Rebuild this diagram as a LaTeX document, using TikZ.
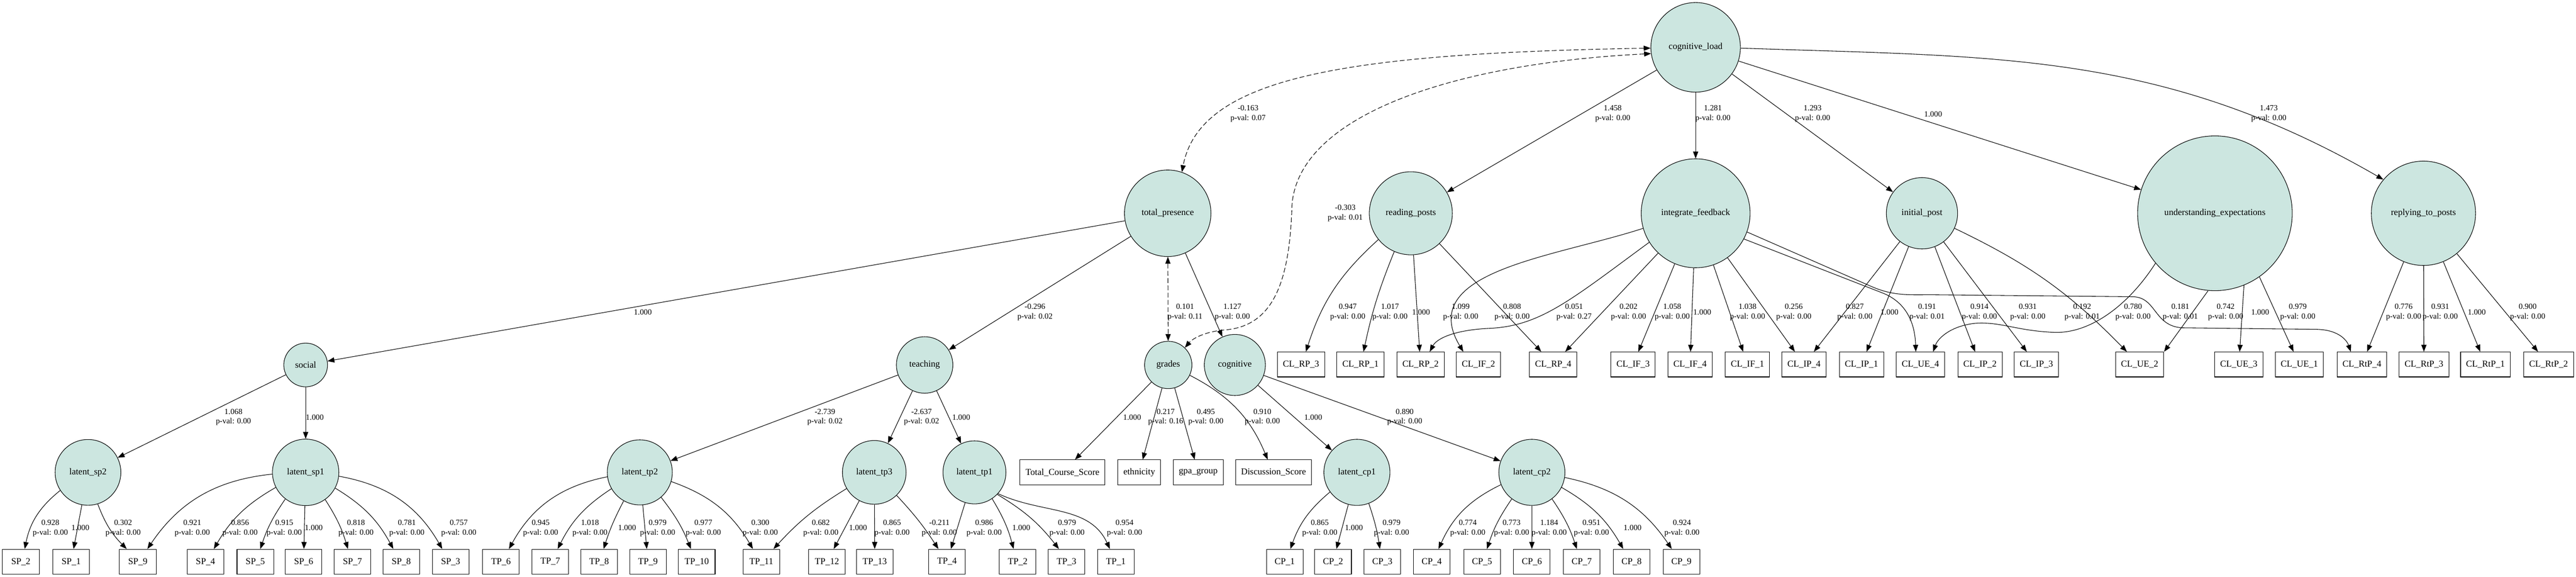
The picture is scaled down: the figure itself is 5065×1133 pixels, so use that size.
\documentclass[tikz,border=0pt]{standalone}
\usepackage{fontspec}
\setmainfont{Liberation Serif}
\usetikzlibrary{arrows.meta}
\definecolor{latentfill}{RGB}{204,230,224}
\tikzset{
  latent/.style={circle,draw=black,fill=latentfill,line width=0.8pt,inner sep=0pt,font=\fontsize{13.1}{15.7}\selectfont},
  observed/.style={rectangle,draw=black,line width=0.8pt,minimum width=53pt,minimum height=36pt,inner xsep=8pt,inner ysep=0pt,font=\fontsize{13.1}{15.7}\selectfont},
  loading/.style={-{Triangle[length=10pt,width=7.5pt]},line width=0.8pt},
  covar/.style={{Triangle[length=10pt,width=7.5pt]}-{Triangle[length=10pt,width=7.5pt]},line width=0.8pt,dash pattern=on 7pt off 3.5pt},
  est/.style={font=\fontsize{11.5}{14}\selectfont,align=center,inner sep=0pt}
}
\begin{document}
\begin{tikzpicture}[x=0.7353pt,y=0.7353pt]
  \useasboundingbox (0,0) rectangle (5065,1133);
  \node[latent,minimum size=129.4pt] (cogload) at (3334,1040) {cognitive\_load};
  \node[latent,minimum size=125pt] (totpres) at (2296,714) {total\_presence};
  \node[latent,minimum size=120pt] (readpost) at (2774,714) {reading\_posts};
  \node[latent,minimum size=157.4pt] (intfeed) at (3334,714) {integrate\_feedback};
  \node[latent,minimum size=103pt] (initpost) at (3779,714) {initial\_post};
  \node[latent,minimum size=223.5pt] (underexp) at (4355,714) {understanding\_expectations};
  \node[latent,minimum size=150.7pt] (replypost) at (4765,714) {replying\_to\_posts};
  \node[latent,minimum size=63.2pt] (social) at (601,416) {social};
  \node[latent,minimum size=81.6pt] (teaching) at (1818,416) {teaching};
  \node[latent,minimum size=68.4pt] (grades) at (2297,416) {grades};
  \node[latent,minimum size=88.2pt] (cognitive) at (2428,416) {cognitive};
  \node[observed] (CLRP3) at (2558,417) {CL\_RP\_3};
  \node[observed] (CLRP1) at (2675,417) {CL\_RP\_1};
  \node[observed] (CLRP2) at (2793,417) {CL\_RP\_2};
  \node[observed] (CLIF2) at (2907,417) {CL\_IF\_2};
  \node[observed] (CLRP4) at (3054,417) {CL\_RP\_4};
  \node[observed] (CLIF3) at (3211,417) {CL\_IF\_3};
  \node[observed] (CLIF4) at (3323,417) {CL\_IF\_4};
  \node[observed] (CLIF1) at (3436,417) {CL\_IF\_1};
  \node[observed] (CLIP4) at (3547,417) {CL\_IP\_4};
  \node[observed] (CLIP1) at (3660,417) {CL\_IP\_1};
  \node[observed] (CLUE4) at (3776,417) {CL\_UE\_4};
  \node[observed] (CLIP2) at (3893,417) {CL\_IP\_2};
  \node[observed] (CLIP3) at (4004,417) {CL\_IP\_3};
  \node[observed] (CLUE2) at (4207,417) {CL\_UE\_2};
  \node[observed] (CLUE3) at (4402,417) {CL\_UE\_3};
  \node[observed] (CLUE1) at (4521,417) {CL\_UE\_1};
  \node[observed] (CLRtP4) at (4644,417) {CL\_RtP\_4};
  \node[observed] (CLRtP3) at (4766,417) {CL\_RtP\_3};
  \node[observed] (CLRtP1) at (4887,417) {CL\_RtP\_1};
  \node[observed] (CLRtP2) at (5011,417) {CL\_RtP\_2};
  \node[latent,minimum size=95pt] (latsp2) at (173,205) {latent\_sp2};
  \node[latent,minimum size=96pt] (latsp1) at (601,205) {latent\_sp1};
  \node[latent,minimum size=94pt] (lattp2) at (1258,205) {latent\_tp2};
  \node[latent,minimum size=92pt] (lattp3) at (1719,205) {latent\_tp3};
  \node[latent,minimum size=91pt] (lattp1) at (1916,205) {latent\_tp1};
  \node[latent,minimum size=95.5pt] (latcp1) at (2668,205) {latent\_cp1};
  \node[latent,minimum size=95.5pt] (latcp2) at (3012,205) {latent\_cp2};
  \node[observed] (tcs) at (2089,205) {Total\_Course\_Score};
  \node[observed] (ethnicity) at (2240,205) {ethnicity};
  \node[observed] (gpagroup) at (2356,205) {gpa\_group};
  \node[observed] (discscore) at (2504,205) {Discussion\_Score};
  \node[observed] (SP2) at (41,29.5) {SP\_2};
  \node[observed] (SP1) at (140,29.5) {SP\_1};
  \node[observed] (SP9) at (271,29.5) {SP\_9};
  \node[observed] (SP4) at (404,29.5) {SP\_4};
  \node[observed] (SP5) at (502,29.5) {SP\_5};
  \node[observed] (SP6) at (597,29.5) {SP\_6};
  \node[observed] (SP7) at (693,29.5) {SP\_7};
  \node[observed] (SP8) at (789,29.5) {SP\_8};
  \node[observed] (SP3) at (886,29.5) {SP\_3};
  \node[observed] (TP6) at (985,29.5) {TP\_6};
  \node[observed] (TP7) at (1082,29.5) {TP\_7};
  \node[observed] (TP8) at (1178,29.5) {TP\_8};
  \node[observed] (TP9) at (1274,29.5) {TP\_9};
  \node[observed] (TP10) at (1370,29.5) {TP\_10};
  \node[observed] (TP11) at (1497,29.5) {TP\_11};
  \node[observed] (TP12) at (1626,29.5) {TP\_12};
  \node[observed] (TP13) at (1720,29.5) {TP\_13};
  \node[observed] (TP4) at (1862,29.5) {TP\_4};
  \node[observed] (TP2) at (2001,29.5) {TP\_2};
  \node[observed] (TP3) at (2097,29.5) {TP\_3};
  \node[observed] (TP1) at (2194,29.5) {TP\_1};
  \node[observed] (CP1) at (2526,29.5) {CP\_1};
  \node[observed] (CP2) at (2621,29.5) {CP\_2};
  \node[observed] (CP3) at (2718,29.5) {CP\_3};
  \node[observed] (CP4) at (2815,29.5) {CP\_4};
  \node[observed] (CP5) at (2914,29.5) {CP\_5};
  \node[observed] (CP6) at (3012,29.5) {CP\_6};
  \node[observed] (CP7) at (3110,29.5) {CP\_7};
  \node[observed] (CP8) at (3208,29.5) {CP\_8};
  \node[observed] (CP9) at (3306,29.5) {CP\_9};
  \draw[covar] (cogload.181) .. controls (2650,1028) and (2360,983) .. (totpres.71);
  \draw[covar] (cogload.188) .. controls (2850,1008) and (2545,903) .. (2540,723) .. controls (2535,573) and (2500,493) .. (2410,485) .. controls (2370,482) and (2345,468) .. (grades.46);
  \draw[covar] (totpres) -- (grades);
  \draw[loading] (cogload) -- (readpost);
  \draw[loading] (cogload) -- (intfeed);
  \draw[loading] (cogload) -- (initpost);
  \draw[loading] (cogload) -- (underexp);
  \draw[loading] (cogload.-1) to[out=-2,in=150] (replypost.140);
  \draw[loading] (totpres) -- (social);
  \draw[loading] (totpres) -- (teaching);
  \draw[loading] (totpres) -- (cognitive);
  \draw[loading] (readpost) to[bend right=15] (CLRP3);
  \draw[loading] (readpost) to[bend right=5] (CLRP1);
  \draw[loading] (readpost) -- (CLRP2);
  \draw[loading] (readpost) -- (CLRP4);
  \draw[loading] (intfeed.-148) .. controls (3090,545) and (3030,493) .. (2930,488) .. controls (2860,485) and (2825,468) .. (CLRP2.54);
  \draw[loading] (intfeed.-164) to[out=-162,in=121,looseness=1.1] (CLIF2.140);
  \draw[loading] (intfeed) -- (CLRP4);
  \draw[loading] (intfeed) -- (CLIF3);
  \draw[loading] (intfeed) -- (CLIF4);
  \draw[loading] (intfeed) -- (CLIF1);
  \draw[loading] (intfeed) -- (CLIP4);
  \draw[loading] (intfeed.-28) -- (3700,558) .. controls (3745,541) and (3765,503) .. (CLUE4.110);
  \draw[loading] (intfeed.-20) -- (3680,570) .. controls (3715,555) and (3740,553) .. (3790,554) -- (4195,550) .. controls (4240,548) and (4235,493) .. (4290,489) -- (4555,486) .. controls (4600,485) and (4615,463) .. (CLRtP4.131);
  \draw[loading] (initpost) -- (CLIP4);
  \draw[loading] (initpost) -- (CLIP1);
  \draw[loading] (initpost) -- (CLIP2);
  \draw[loading] (initpost) -- (CLIP3);
  \draw[loading] (initpost) to[bend left=10] (CLUE2);
  \draw[loading] (underexp.-140) .. controls (4185,533) and (4110,478) .. (4040,480) .. controls (3965,483) and (3935,501) .. (3885,498) .. controls (3835,493) and (3810,468) .. (CLUE4.45);
  \draw[loading] (underexp.-95) -- (CLUE2.north east);
  \draw[loading] (underexp.-68) -- (CLUE3);
  \draw[loading] (underexp.-55) -- (CLUE1);
  \draw[loading] (replypost) -- (CLRtP4);
  \draw[loading] (replypost) -- (CLRtP3);
  \draw[loading] (replypost) -- (CLRtP1);
  \draw[loading] (replypost) -- (CLRtP2);
  \draw[loading] (social) -- (latsp2);
  \draw[loading] (social) -- (latsp1);
  \draw[loading] (teaching) -- (lattp2);
  \draw[loading] (teaching) -- (lattp3);
  \draw[loading] (teaching) -- (lattp1);
  \draw[loading] (cognitive) -- (latcp1);
  \draw[loading] (cognitive) -- (latcp2);
  \draw[loading] (grades) -- (tcs);
  \draw[loading] (grades) -- (ethnicity);
  \draw[loading] (grades) -- (gpagroup);
  \draw[loading] (grades) to[bend left=20] (discscore);
  \draw[loading] (latsp2) to[bend right=20] (SP2);
  \draw[loading] (latsp2) -- (SP1);
  \draw[loading] (latsp2) to[bend right=12] (SP9);
  \draw[loading] (latsp1) to[bend right=25] (SP9);
  \draw[loading] (latsp1) to[bend right=15] (SP4);
  \draw[loading] (latsp1) to[bend right=8] (SP5);
  \draw[loading] (latsp1) -- (SP6);
  \draw[loading] (latsp1) to[bend left=8] (SP7);
  \draw[loading] (latsp1) to[bend left=15] (SP8);
  \draw[loading] (latsp1) to[bend left=25] (SP3);
  \draw[loading] (lattp2) to[bend right=25] (TP6);
  \draw[loading] (lattp2) to[bend right=15] (TP7);
  \draw[loading] (lattp2) to[bend right=5] (TP8);
  \draw[loading] (lattp2) -- (TP9);
  \draw[loading] (lattp2) to[bend left=8] (TP10);
  \draw[loading] (lattp2) to[bend left=20] (TP11);
  \draw[loading] (lattp3) to[bend right=8] (TP11);
  \draw[loading] (lattp3) -- (TP12);
  \draw[loading] (lattp3) -- (TP13);
  \draw[loading] (lattp3) to[bend left=5] (TP4);
  \draw[loading] (lattp1) -- (TP4);
  \draw[loading] (lattp1) to[bend left=8] (TP2);
  \draw[loading] (lattp1.-44) to[out=-31,in=128] (TP3.121);
  \draw[loading] (lattp1.-42) to[out=-25,in=115] (TP1.115);
  \draw[loading] (latcp1) to[bend right=15] (CP1);
  \draw[loading] (latcp1) -- (CP2);
  \draw[loading] (latcp1) to[bend left=5] (CP3);
  \draw[loading] (latcp2) to[bend right=20] (CP4);
  \draw[loading] (latcp2) to[bend right=8] (CP5);
  \draw[loading] (latcp2) -- (CP6);
  \draw[loading] (latcp2) to[bend left=8] (CP7);
  \draw[loading] (latcp2) to[bend left=15] (CP8);
  \draw[loading] (latcp2) to[bend left=22] (CP9);
  \node[est] (lab1) at (2454,909.5) {-0.163\\p-val: 0.07};
  \node[est] (lab2) at (2645,714.5) {-0.303\\p-val: 0.01};
  \node[est] (lab3) at (3171,909.5) {1.458\\p-val: 0.00};
  \node[est] (lab4) at (3368,909.5) {1.281\\p-val: 0.00};
  \node[est] (lab5) at (3564,909.5) {1.293\\p-val: 0.00};
  \node[est] (lab6) at (3801,909) {1.000};
  \node[est] (lab7) at (4461,909.5) {1.473\\p-val: 0.00};
  \node[est] (lab8) at (1264,520) {1.000};
  \node[est] (lab9) at (2035,519.5) {-0.296\\p-val: 0.02};
  \node[est] (lab10) at (2330,519.5) {0.101\\p-val: 0.11};
  \node[est] (lab11) at (2423,519.5) {1.127\\p-val: 0.00};
  \node[est] (lab12) at (2650,519.5) {0.947\\p-val: 0.00};
  \node[est] (lab13) at (2733,519.5) {1.017\\p-val: 0.00};
  \node[est] (lab14) at (2794,520) {1.000};
  \node[est] (lab15) at (2872,519.5) {1.099\\p-val: 0.00};
  \node[est] (lab16) at (2973,519.5) {0.808\\p-val: 0.00};
  \node[est] (lab17) at (3095,519.5) {0.051\\p-val: 0.27};
  \node[est] (lab18) at (3202,519.5) {0.202\\p-val: 0.00};
  \node[est] (lab19) at (3288,519.5) {1.058\\p-val: 0.00};
  \node[est] (lab20) at (3347,520) {1.000};
  \node[est] (lab21) at (3436,519.5) {1.038\\p-val: 0.00};
  \node[est] (lab22) at (3527,519.5) {0.256\\p-val: 0.00};
  \node[est] (lab23) at (3647,519.5) {0.827\\p-val: 0.00};
  \node[est] (lab24) at (3715,520) {1.000};
  \node[est] (lab25) at (3789,519.5) {0.191\\p-val: 0.01};
  \node[est] (lab26) at (3892,519.5) {0.914\\p-val: 0.00};
  \node[est] (lab27) at (3987,519.5) {0.931\\p-val: 0.00};
  \node[est] (lab28) at (4094,519.5) {0.192\\p-val: 0.01};
  \node[est] (lab29) at (4194,519.5) {0.780\\p-val: 0.00};
  \node[est] (lab30) at (4287,519.5) {0.181\\p-val: 0.01};
  \node[est] (lab31) at (4376,519.5) {0.742\\p-val: 0.00};
  \node[est] (lab32) at (4444,520) {1.000};
  \node[est] (lab33) at (4518,519.5) {0.979\\p-val: 0.00};
  \node[est] (lab34) at (4726,519.5) {0.776\\p-val: 0.00};
  \node[est] (lab35) at (4798,519.5) {0.931\\p-val: 0.00};
  \node[est] (lab36) at (4870,520) {1.000};
  \node[est] (lab37) at (4970,519.5) {0.900\\p-val: 0.00};
  \node[est] (lab38) at (459,313.5) {1.068\\p-val: 0.00};
  \node[est] (lab39) at (619,313) {1.000};
  \node[est] (lab40) at (1622,313.5) {-2.739\\p-val: 0.02};
  \node[est] (lab41) at (1812,313.5) {-2.637\\p-val: 0.02};
  \node[est] (lab42) at (1890,313) {1.000};
  \node[est] (lab43) at (2226,313) {1.000};
  \node[est] (lab44) at (2292,313.5) {0.217\\p-val: 0.16};
  \node[est] (lab45) at (2371,313.5) {0.495\\p-val: 0.00};
  \node[est] (lab46) at (2482,313.5) {0.910\\p-val: 0.00};
  \node[est] (lab47) at (2582,313) {1.000};
  \node[est] (lab48) at (2762,313.5) {0.890\\p-val: 0.00};
  \node[est] (lab49) at (99,95.5) {0.928\\p-val: 0.00};
  \node[est] (lab50) at (158,96) {1.000};
  \node[est] (lab51) at (242,95.5) {0.302\\p-val: 0.00};
  \node[est] (lab52) at (378,95.5) {0.921\\p-val: 0.00};
  \node[est] (lab53) at (472,95.5) {0.856\\p-val: 0.00};
  \node[est] (lab54) at (559,95.5) {0.915\\p-val: 0.00};
  \node[est] (lab55) at (617,96) {1.000};
  \node[est] (lab56) at (700,95.5) {0.818\\p-val: 0.00};
  \node[est] (lab57) at (800,95.5) {0.781\\p-val: 0.00};
  \node[est] (lab58) at (902,95.5) {0.757\\p-val: 0.00};
  \node[est] (lab59) at (1063,95.5) {0.945\\p-val: 0.00};
  \node[est] (lab60) at (1160,95.5) {1.018\\p-val: 0.00};
  \node[est] (lab61) at (1233,96) {1.000};
  \node[est] (lab62) at (1293,95.5) {0.979\\p-val: 0.00};
  \node[est] (lab63) at (1383,95.5) {0.977\\p-val: 0.00};
  \node[est] (lab64) at (1495,95.5) {0.300\\p-val: 0.00};
  \node[est] (lab65) at (1614,95.5) {0.682\\p-val: 0.00};
  \node[est] (lab66) at (1687,96) {1.000};
  \node[est] (lab67) at (1754,95.5) {0.865\\p-val: 0.00};
  \node[est] (lab68) at (1847,95.5) {-0.211\\p-val: 0.00};
  \node[est] (lab69) at (1935,95.5) {0.986\\p-val: 0.00};
  \node[est] (lab70) at (2008,96) {1.000};
  \node[est] (lab71) at (2098,95.5) {0.979\\p-val: 0.00};
  \node[est] (lab72) at (2211,95.5) {0.954\\p-val: 0.00};
  \node[est] (lab73) at (2595,95.5) {0.865\\p-val: 0.00};
  \node[est] (lab74) at (2662,96) {1.000};
  \node[est] (lab75) at (2736,95.5) {0.979\\p-val: 0.00};
  \node[est] (lab76) at (2886,95.5) {0.774\\p-val: 0.00};
  \node[est] (lab77) at (2972,95.5) {0.773\\p-val: 0.00};
  \node[est] (lab78) at (3046,95.5) {1.184\\p-val: 0.00};
  \node[est] (lab79) at (3129,95.5) {0.951\\p-val: 0.00};
  \node[est] (lab80) at (3210,96) {1.000};
  \node[est] (lab81) at (3307,95.5) {0.924\\p-val: 0.00};
\end{tikzpicture}
\end{document}
